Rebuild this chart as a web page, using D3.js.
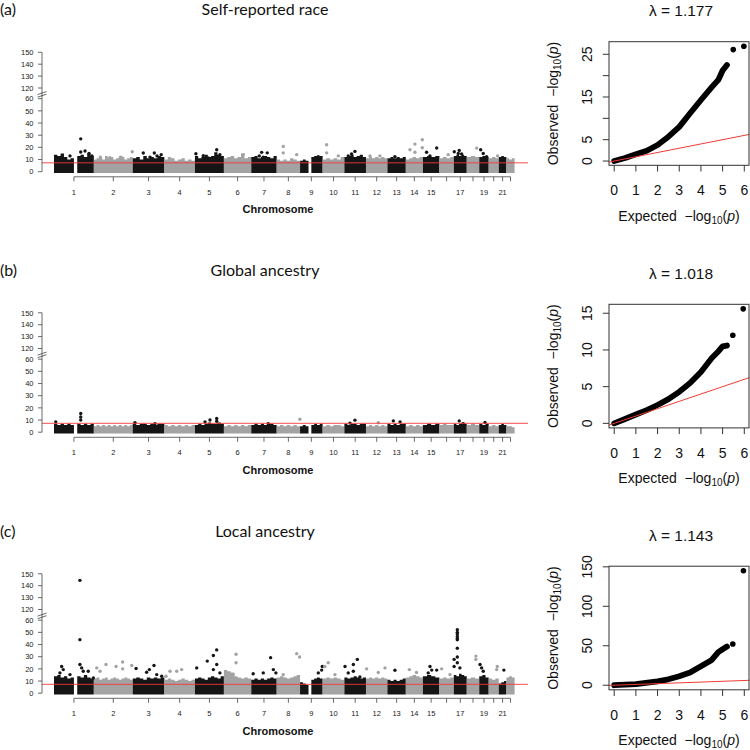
<!DOCTYPE html>
<html><head><meta charset="utf-8">
<script src="https://cdn.jsdelivr.net/npm/d3@7"></script>
<style>body{margin:0;background:#fff} svg{display:block} text{white-space:pre}</style>
</head><body><svg id="c" width="750" height="750"></svg>
<script>
// ---------------- DATA ----------------
const chromLengths = [249,243,198,191,181,171,159,146,141,136,135,134,115,107,103,90,81,78,59,63,48,51];
const chromLabels = ["1","2","3","4","5","6","7","8","9","10","11","12","13","14","15","","17","","19","","21",""];
const panelTags = ["(a)","(b)","(c)"];
const panelTitles = ["Self-reported race","Global ancestry","Local ancestry"];
const lambdas = ["1.177","1.018","1.143"];
const manYTicks = [0,10,20,30,40,50,60,120,130,140,150];
const threshold = 7.3;

// dense band tops per chromosome (-log10 p), left to right
const bulkA = [
 [13,12,14,11,9,10,0,12,13,11,14,12],
 [9,10,11,9,12,10,11,9,10,12,11,9,10,11],
 [10,11,9,12,10,11,10,12,11],
 [9,11,10,8,9,10,8,9,8],
 [12,10,11,13,11,12,15,13,12],
 [10,11,12,10,11,14,10,11],
 [11,12,10,11,12,11,10,12],
 [9,8,9,8,10,9,8],
 [8,9,8,0,11,12,11,12],
 [9,10,9,10,9,11],
 [11,12,13,11,12,13,11],
 [10,11,10,11,10,11,10],
 [10,11,10,11,10,11],
 [9,10,11,10,11],
 [11,12,11,12],
 [10,11,10,11],
 [12,13,12,13,12],
 [11,12,11],
 [11,12,11],
 [10,11,10],
 [11,12,11],
 [10,9,10]
];
const bulkB = [
 [6,5,6,5,6,5,0,6,5,6,5,6],
 [4,5,4,5,4,5,4,5,4,5,4,5,4,5],
 [6,5,6,6,5,6,5,6,6],
 [5,4,5,4,5,4,5,4,5],
 [5,6,5,6,7,6,6,7,6],
 [4,5,4,5,4,5,4,5],
 [5,6,5,6,5,6,6,5],
 [4,5,4,5,4,5,4],
 [4,5,4,0,5,6,5,6],
 [4,5,4,5,5,4],
 [6,5,6,6,5,6,6],
 [4,5,4,5,4,5,4],
 [6,5,6,5,6,6],
 [4,5,4,5,4],
 [5,6,5,6],
 [5,6,5,5],
 [6,5,6,7,6],
 [5,6,5],
 [6,5,6],
 [4,5,4],
 [5,6,5],
 [4,4,3]
];
const bulkC = [
 [13,14,12,13,11,12,0,13,12,14,12,11],
 [11,12,10,11,12,10,11,12,11,10,11,12,11,10],
 [11,12,11,10,12,11,12,11,12],
 [10,11,10,9,10,11,10,9,10],
 [11,12,11,10,12,13,12,11,13],
 [18,17,16,13,12,11,12,11],
 [10,11,10,11,10,11,12,11],
 [12,13,12,11,12,13,14],
 [8,7,6,0,10,11,12,11],
 [11,12,11,12,11,10],
 [12,11,12,13,12,11,12],
 [11,12,11,12,11,12,11],
 [10,9,10,9,10,11],
 [12,13,14,13,12],
 [13,14,13,12],
 [11,12,11,12],
 [14,13,15,14,13],
 [11,12,11],
 [13,14,12],
 [11,10,11],
 [7,8,9],
 [12,13,12]
];

// individual points above the band: [chromosome, position (Mb), -log10 p]
const hitsA = [
 [1,167,27],[1,194,17],[1,167,16.2],[1,219,15],[1,237,13],[1,100,13],
 [2,240,16.4],[2,40,12],[2,100,11.5],[2,170,12],
 [3,66,15.4],[3,135,15.4],[3,108,12],[3,152,13],[3,178,14],
 [5,6,14.8],[5,52,13.1],[5,83,11.4],[5,136,18],[5,156,14],
 [6,121,14],
 [7,65,15.9],[7,100,15.5],[7,50,13],[7,75,12],
 [8,41,20.8],[8,41,15.5],[8,125,14],
 [9,114,12.4],
 [10,25,22.2],[10,25,15.5],[10,98,13],
 [11,66,16.7],[11,45,14.5],[11,24,13],
 [12,25,13],[12,87,13],
 [13,47,12.4],
 [14,26,18],[14,57,22.7],[14,57,16],[14,103,26.3],[14,103,19.7],
 [15,23,16],[15,86,19.5],[15,44,13],
 [16,55,14],
 [17,3,16.4],[17,34,17.5],[17,49,14.6],[17,28,15],
 [18,62,19.4],
 [19,9,18],[19,25,15],[19,46,12.4],
 [20,56,13]
];
const hitsB = [
 [1,11,8.5],[1,167,15.4],[1,167,12.5],[1,167,10],
 [3,14,7.9],[3,139,7],
 [5,63,8.5],[5,94,10],[5,136,11.2],[5,136,9],
 [7,106,7],
 [8,145,10.7],
 [11,66,9.9],[11,35,7.5],
 [12,77,7.8],
 [13,37,9.3],[13,79,8.5],
 [17,34,9.3],[17,59,7],
 [19,36,8]
];
const hitsC = [
 [1,48,22],[1,58,19.4],[1,37,16.7],[1,162,144.5],[1,162,44],[1,162,23.6],[1,173,20.8],[1,183,18],[1,214,18],[1,100,15.3],[1,246,12.5],
 [2,76,23.6],[2,139,22],[2,180,25.6],[2,180,20],[2,237,22.8],[2,39,18],[2,18,20.8],
 [3,21,20.3],[3,104,19.4],[3,133,22.8],[3,87,17.2],[3,150,15.3],[3,181,13.9],
 [4,35,18],[4,77,18],[4,108,19.4],[4,10,13.9],
 [5,11,20.8],[5,77,26.4],[5,115,31],[5,136,35.6],[5,136,23.6],[5,115,19.4],[5,156,16.7],
 [6,76,32],[6,76,25],[6,59,15.3],
 [7,121,29.2],[7,138,19.4],[7,75,16.7],[7,12,16],[7,154,16.7],
 [8,125,32.5],[8,143,29.7],[8,41,15.3],
 [9,139,22],[9,114,16.7],[9,135,19],
 [10,35,25],[10,14,22],[10,77,15.3],
 [11,4,22],[11,56,23.6],[11,56,18],[11,81,27.8],[11,24,16.7],[11,97,13.3],
 [12,4,20],[12,77,17],[12,119,20.8],
 [13,47,18.9],
 [14,22,19.4],[14,67,17],
 [15,44,22],[15,55,19],[15,33,16.7],[15,86,19],
 [16,14,20],[16,66,15.3],
 [17,22,52.2],[17,22,50],[17,22,48.6],[17,22,46.7],[17,22,45],[17,22,43.9],[17,22,36.9],[17,22,29.7],[17,22,25],[17,2,27.8],[17,2,22],[17,38,20.8],
 [18,57,30.5],[18,57,27.8],
 [19,5,23.6],[19,15,20.8],[19,25,18],
 [20,54,22],[20,50,19.4],
 [21,32,19]
];

// QQ: expected vs observed -log10 p (dense curve) and isolated top points
const qqExpA = [0,0.5,1,1.5,2,2.5,3,3.5,4,4.5,4.8,5.0,5.2];
const qqObsA = [0,0.7,1.6,2.4,3.75,5.7,8,11.2,14.3,17.3,19,21.2,22.5];
const qqTopA = [[5.49,26.1],[5.98,26.9]];
const qqExpB = [0,0.5,1,1.5,2,2.5,3,3.5,4,4.5,4.8,5.0,5.2];
const qqObsB = [0,0.6,1.2,1.8,2.5,3.3,4.3,5.5,7,8.9,9.8,10.5,10.6];
const qqTopB = [[5.47,12],[5.95,15.6]];
const qqExpC = [0,1,2,2.5,3,3.5,4,4.5,4.8,5.0,5.2];
const qqObsC = [0,1.5,5,7.5,11.3,16,24,32,42,45.6,49];
const qqTopC = [[5.47,52.3],[5.96,145]];
const qqXTicks = [0,1,2,3,4,5,6];
const qqYTicksA = [0,5,10,15,20,25], qqYLabA = ["0","5","","15","","25"];
const qqYTicksB = [0,5,10,15], qqYLabB = ["0","5","10","15"];
const qqYTicksC = [0,50,100,150], qqYLabC = ["0","50","100","150"];

// ---------------- DRAW ----------------
const svg = d3.select("#c");
const RED = "#ee3b36", BLACK = "#151515", GRAY = "#a3a3a3";
const cum = []; chromLengths.reduce((a,l,i)=>{cum[i]=a; return a+l;},0);
const total = d3.sum(chromLengths);
const x = d3.scaleLinear().domain([0,total]).range([54,514.6]);
const col = i => (i % 2 === 0 ? BLACK : GRAY);

const panels = [
 {bulk:bulkA, hits:hitsA, qe:qqExpA, qo:qqObsA, qt:qqTopA, yd:[-1.0,27.95], yt:qqYTicksA, yl:qqYLabA},
 {bulk:bulkB, hits:hitsB, qe:qqExpB, qo:qqObsB, qt:qqTopB, yd:[-0.62,16.22], yt:qqYTicksB, yl:qqYLabB},
 {bulk:bulkC, hits:hitsC, qe:qqExpC, qo:qqObsC, qt:qqTopC, yd:[-5.8,150.8], yt:qqYTicksC, yl:qqYLabC}
];
const manOff = [0,260.5,521.5];
const qqOff = [0,262.6,524.5];
const FS = "'Liberation Sans', Arial, sans-serif";

panels.forEach((p, pi) => {
  const g = svg.append("g").attr("transform", `translate(0,${manOff[pi]})`);
  const y = d3.scaleLinear().domain([0,60,120,150]).range([171.7,98.7,88,52.3]);

  // tag and title
  svg.append("text").attr("x",0).attr("y",15+manOff[pi]).attr("font-family","Lato, 'Open Sans', sans-serif")
     .attr("font-size",16).attr("fill","#111").text(panelTags[pi]);
  svg.append("text").attr("x",265).attr("y",15+manOff[pi]).attr("text-anchor","middle")
     .attr("font-family","Lato, 'Open Sans', sans-serif").attr("font-size",16).attr("fill","#111").text(panelTitles[pi]);

  // bulk bands (step areas per chromosome)
  const area = d3.area().curve(d3.curveStepAfter)
    .x(d => x(d[0])).y0(y(0) + 1.2).y1(d => d[1] > 0 ? y(d[1]) - 1.2 : y(0) + 1.2);
  p.bulk.forEach((hs, ci) => {
    const w = chromLengths[ci] / hs.length;
    const pts = hs.map((h, k) => [cum[ci] + k*w, h]);
    pts.push([cum[ci] + chromLengths[ci], hs[hs.length-1]]);
    g.append("path").datum(pts).attr("d", area).attr("fill", col(ci));
  });

  // individual points
  g.selectAll("circle.h").data(p.hits).join("circle")
    .attr("cx", d => x(cum[d[0]-1] + d[1])).attr("cy", d => y(d[2])).attr("r", 1.7)
    .attr("fill", d => col(d[0]-1));

  // threshold
  g.append("line").attr("x1",42).attr("x2",528).attr("y1",y(threshold)).attr("y2",y(threshold))
    .attr("stroke",RED).attr("stroke-width",0.9);

  // y axis
  g.append("line").attr("x1",42).attr("x2",42).attr("y1",y(0)).attr("y2",y(150)).attr("stroke","#444").attr("stroke-width",0.8);
  manYTicks.forEach(t => {
    g.append("line").attr("x1",38).attr("x2",42).attr("y1",y(t)).attr("y2",y(t)).attr("stroke","#444").attr("stroke-width",0.8);
    g.append("text").attr("x",33.5).attr("y",y(t)+2.7).attr("text-anchor","end").attr("font-family",FS)
      .attr("font-size",7.5).attr("fill","#222").text(t);
  });
  // axis break marks
  g.append("line").attr("x1",37.5).attr("y1",94.6).attr("x2",46.5).attr("y2",91.6).attr("stroke","#444").attr("stroke-width",0.8);
  g.append("line").attr("x1",37.5).attr("y1",97.2).attr("x2",46.5).attr("y2",94.2).attr("stroke","#444").attr("stroke-width",0.8);

  // x axis
  const mids = chromLengths.map((l,i) => cum[i] + l/2);
  const ax = 176.8;
  g.append("line").attr("x1",x(mids[0])).attr("x2",x(mids[21])).attr("y1",ax).attr("y2",ax).attr("stroke","#444").attr("stroke-width",0.8);
  mids.forEach((m,i) => {
    g.append("line").attr("x1",x(m)).attr("x2",x(m)).attr("y1",ax).attr("y2",ax+4.5).attr("stroke","#444").attr("stroke-width",0.8);
    if (chromLabels[i]) g.append("text").attr("x",x(m)).attr("y",ax+18).attr("text-anchor","middle").attr("font-family",FS)
      .attr("font-size",7.5).attr("fill","#222").text(chromLabels[i]);
  });
  g.append("text").attr("x",278).attr("y",ax+36.5).attr("text-anchor","middle").attr("font-family",FS)
    .attr("font-size",11).attr("font-weight","bold").attr("fill","#111").text("Chromosome");

  // ---------- QQ ----------
  const q = svg.append("g").attr("transform", `translate(0,${qqOff[pi]})`);
  const qx = d3.scaleLinear().domain([-0.24,6.24]).range([609,749.5]);
  const qy = d3.scaleLinear().domain(p.yd).range([165.3,41.7]);
  const cid = "clip"+pi;
  q.append("clipPath").attr("id",cid).append("rect").attr("x",609).attr("y",41.7).attr("width",140.5).attr("height",123.6);

  const pts = p.qe.map((e,i) => [e, p.qo[i]]);
  q.append("path").datum(pts).attr("d", d3.line().x(d=>qx(d[0])).y(d=>qy(d[1])))
    .attr("fill","none").attr("stroke","#000").attr("stroke-width",5.8).attr("stroke-linecap","round").attr("stroke-linejoin","round");
  q.selectAll("circle.t").data(p.qt).join("circle").attr("cx",d=>qx(d[0])).attr("cy",d=>qy(d[1])).attr("r",2.8).attr("fill","#000");
  q.append("line").attr("clip-path",`url(#${cid})`).attr("x1",qx(-0.24)).attr("y1",qy(-0.24)).attr("x2",qx(6.24)).attr("y2",qy(6.24))
    .attr("stroke",RED).attr("stroke-width",1);

  q.append("rect").attr("x",609).attr("y",41.7).attr("width",140).attr("height",123.6).attr("fill","none").attr("stroke","#333").attr("stroke-width",1);

  qqXTicks.forEach(t => {
    q.append("line").attr("x1",qx(t)).attr("x2",qx(t)).attr("y1",165.3).attr("y2",171.5).attr("stroke","#333");
    q.append("text").attr("x",qx(t)).attr("y",195).attr("text-anchor","middle").attr("font-family",FS).attr("font-size",14).attr("fill","#111").text(t);
  });
  p.yt.forEach((t,i) => {
    q.append("line").attr("x1",602.8).attr("x2",609).attr("y1",qy(t)).attr("y2",qy(t)).attr("stroke","#333");
    if (p.yl[i]) q.append("text").attr("transform",`translate(592,${qy(t)}) rotate(-90)`).attr("text-anchor","middle")
      .attr("font-family",FS).attr("font-size",14).attr("fill","#111").text(p.yl[i]);
  });

  const lab = (sel, word) => {
    sel.append("tspan").text(word + "  \u2212log");
    sel.append("tspan").attr("dy",3).attr("font-size",10).text("10");
    sel.append("tspan").attr("dy",-3).text("(");
    sel.append("tspan").attr("font-style","italic").text("p");
    sel.append("tspan").text(")");
  };
  const xl = q.append("text").attr("x",679).attr("y",220.5).attr("text-anchor","middle").attr("font-family",FS).attr("font-size",14).attr("fill","#111");
  lab(xl, "Expected");
  const yl = q.append("text").attr("transform","translate(558,103.5) rotate(-90)").attr("text-anchor","middle").attr("font-family",FS).attr("font-size",14).attr("fill","#111");
  lab(yl, "Observed");

  q.append("text").attr("x",681).attr("y",16).attr("text-anchor","middle").attr("font-family",FS).attr("font-size",15.5).attr("fill","#111")
    .text("\u03bb = " + lambdas[pi]);
});
</script></body></html>
